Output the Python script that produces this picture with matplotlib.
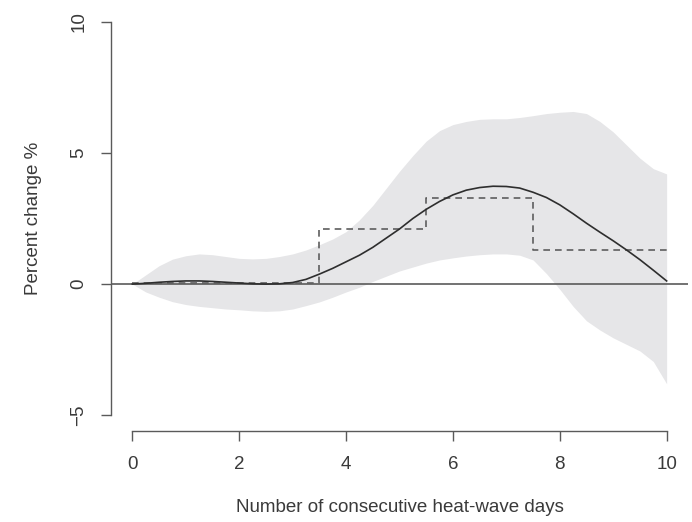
import matplotlib
matplotlib.use("Agg")
import matplotlib.pyplot as plt

# ---- data ----
days = [0.0, 0.25, 0.5, 0.75, 1.0, 1.25, 1.5, 1.75, 2.0, 2.25, 2.5, 2.75, 3.0,
        3.25, 3.5, 3.75, 4.0, 4.25, 4.5, 4.75, 5.0, 5.25, 5.5, 5.75, 6.0, 6.25,
        6.5, 6.75, 7.0, 7.25, 7.5, 7.75, 8.0, 8.25, 8.5, 8.75, 9.0, 9.25, 9.5,
        9.75, 10.0]

fit = [0.0, 0.03, 0.07, 0.1, 0.12, 0.12, 0.1, 0.07, 0.04, 0.01, 0.0, 0.01, 0.06,
       0.18, 0.38, 0.6, 0.85, 1.1, 1.4, 1.75, 2.1, 2.5, 2.85, 3.15, 3.4, 3.58,
       3.68, 3.73, 3.72, 3.66, 3.5, 3.3, 3.02, 2.68, 2.32, 1.98, 1.65, 1.3, 0.93,
       0.53, 0.12]

upper = [0.0, 0.35, 0.7, 0.95, 1.08, 1.15, 1.12, 1.05, 0.98, 0.96, 0.98, 1.05,
         1.15, 1.3, 1.5, 1.72, 2.0, 2.45, 3.0, 3.65, 4.3, 4.9, 5.45, 5.85, 6.08,
         6.2, 6.28, 6.3, 6.3, 6.35, 6.42, 6.5, 6.55, 6.58, 6.5, 6.2, 5.8, 5.3,
         4.8, 4.4, 4.2]

lower = [0.0, -0.3, -0.5, -0.67, -0.78, -0.85, -0.9, -0.95, -0.98, -1.02, -1.04,
         -1.02, -0.95, -0.82, -0.68, -0.5, -0.3, -0.12, 0.1, 0.3, 0.5, 0.65, 0.8,
         0.92, 1.0, 1.07, 1.12, 1.15, 1.15, 1.1, 0.92, 0.4, -0.2, -0.85, -1.4,
         -1.75, -2.05, -2.3, -2.55, -2.95, -3.8]

step_x = [0.0, 3.5, 5.5, 7.5, 10.0]
step_y = [0.05, 2.1, 3.3, 1.3, 1.3]

x_ticks = [0, 2, 4, 6, 8, 10]
x_tick_labels = ["0", "2", "4", "6", "8", "10"]
y_ticks = [-5, 0, 5, 10]
y_tick_labels = ["\u22125", "0", "5", "10"]

x_title = "Number of consecutive heat-wave days"
y_title = "Percent change %"

# ---- figure ----
plt.rcParams["font.family"] = ["Liberation Sans", "DejaVu Sans"]
W, H = 692, 522
fig = plt.figure(figsize=(W / 100, H / 100), dpi=100)
ax = fig.add_axes([111 / W, 1 - 431 / H, 577 / W, 425 / H])

ax.fill_between(days, lower, upper, color="#e6e6e8", lw=0, zorder=1)
ax.axhline(0, color="#5a5a5a", lw=1.2, zorder=2)
ax.plot(step_x, step_y, drawstyle="steps-post", ls=(0, (4, 3)),
        color="#5e5e5e", lw=1.2, zorder=3)
ax.plot(days, fit, color="#2e2e2e", lw=1.2, zorder=4)

ax.set_xlim(-0.4, 10.4)
ax.set_ylim(-5.6, 10.6)

for s in ("top", "right"):
    ax.spines[s].set_visible(False)
ax.spines["left"].set_bounds(-5, 10)
ax.spines["bottom"].set_bounds(0, 10)
for s in ("left", "bottom"):
    ax.spines[s].set_color("#5a5a5a")
    ax.spines[s].set_linewidth(1.0)

ax.set_xticks(x_ticks)
ax.set_xticklabels(x_tick_labels)
ax.set_yticks(y_ticks)
ax.set_yticklabels(y_tick_labels, rotation=90, va="center")
ax.tick_params(direction="out", length=7, width=1.0, color="#5a5a5a",
               labelsize=13.5, labelcolor="#3a3a3a")
ax.tick_params(axis="x", pad=11)
ax.tick_params(axis="y", pad=10)

fig.text(399.5 / W, 1 - 508 / H, x_title, ha="center", va="center",
         fontsize=13.5, color="#3a3a3a")
fig.text(34 / W, 1 - 218 / H, y_title, ha="center", va="center",
         rotation=90, fontsize=13.5, color="#3a3a3a")

fig.savefig("out.png", dpi=100)
